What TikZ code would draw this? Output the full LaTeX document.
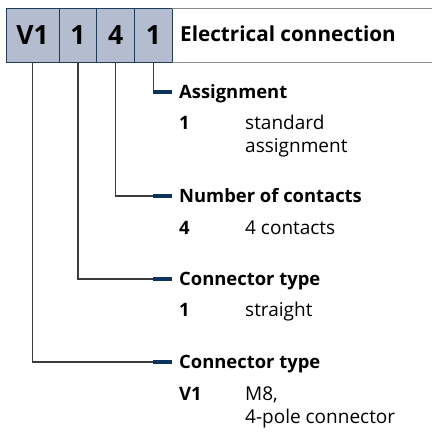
\documentclass[tikz,border=0pt]{standalone}
\usepackage{fontspec}
\setmainfont{Open Sans}
\usetikzlibrary{positioning}

\definecolor{boxfill}{RGB}{180,189,208}
\definecolor{boxline}{RGB}{30,60,90}
\definecolor{navy}{RGB}{12,52,92}
\definecolor{wiregray}{RGB}{60,60,60}
\definecolor{rulegray}{RGB}{140,140,140}

\begin{document}
\begin{tikzpicture}[x=1pt, y=-1pt,
	box/.style={rectangle, draw=boxline, fill=boxfill, line width=1pt, minimum height=54pt, inner sep=0pt, outer sep=0pt, font=\fontsize{26.5}{26.5}\selectfont\bfseries},
	head/.style={anchor=west, inner sep=0pt, text height=13.5pt, text depth=0pt, font=\fontsize{18.4}{23}\selectfont\bfseries},
	key/.style={anchor=base west, inner sep=0pt, font=\fontsize{18.5}{23}\selectfont\bfseries},
	txt/.style={anchor=base west, inner sep=0pt, align=left, font=\fontsize{19}{23}\selectfont},
	wire/.style={draw=wiregray, line width=1.4pt, shorten >=7pt},
	bar/.style={draw=navy, line width=3.5pt}
]
	\useasboundingbox (0,0) rectangle (432,432);

	\node[box, minimum width=53pt] (V) at (32.5,35) {V1};
	\node[box, minimum width=37.8pt, right=0pt of V] (T) {1};
	\node[box, minimum width=37.8pt, right=0pt of T] (N) {4};
	\node[box, minimum width=37.8pt, right=0pt of N] (A) {1};

	\draw[rulegray, line width=1pt] (A.north east) -- (432,8);
	\draw[rulegray, line width=1pt] (A.south east) -- (432,62);
	\node[anchor=base west, inner sep=0pt, font=\fontsize{20.7}{20.7}\selectfont\bfseries] (E) at (180,41) {Electrical connection};

	\node[head] (HA) at (179,92) {Assignment};
	\node[head] (HN) at (179,196) {Number of contacts};
	\node[head] (HT) at (179,279) {Connector type};
	\node[head] (HV) at (179,362) {Connector type};

	\node[key] (KA) at (179,129) {1};
	\node[txt] (DA) at (245,152) {standard\\assignment};
	\node[key] (KN) at (179,234) {4};
	\node[txt] (DN) at (245,234) {4 contacts};
	\node[key] (KT) at (179,316) {1};
	\node[txt] (DT) at (245,316) {straight};
	\node[key] (KV) at (179,400) {V1};
	\node[txt] (DV) at (245,423) {M8,\\4-pole connector};

	\draw[wire] (A.south) |- (HA.west);
	\draw[wire] (N.south) |- (HN.west);
	\draw[wire] (T.south) |- (HT.west);
	\draw[wire] (V.south) |- (HV.west);

	\draw[bar] ([xshift=-26pt]HA.west) -- ([xshift=-7pt]HA.west);
	\draw[bar] ([xshift=-26pt]HN.west) -- ([xshift=-7pt]HN.west);
	\draw[bar] ([xshift=-26pt]HT.west) -- ([xshift=-7pt]HT.west);
	\draw[bar] ([xshift=-26pt]HV.west) -- ([xshift=-7pt]HV.west);
\end{tikzpicture}
\end{document}
